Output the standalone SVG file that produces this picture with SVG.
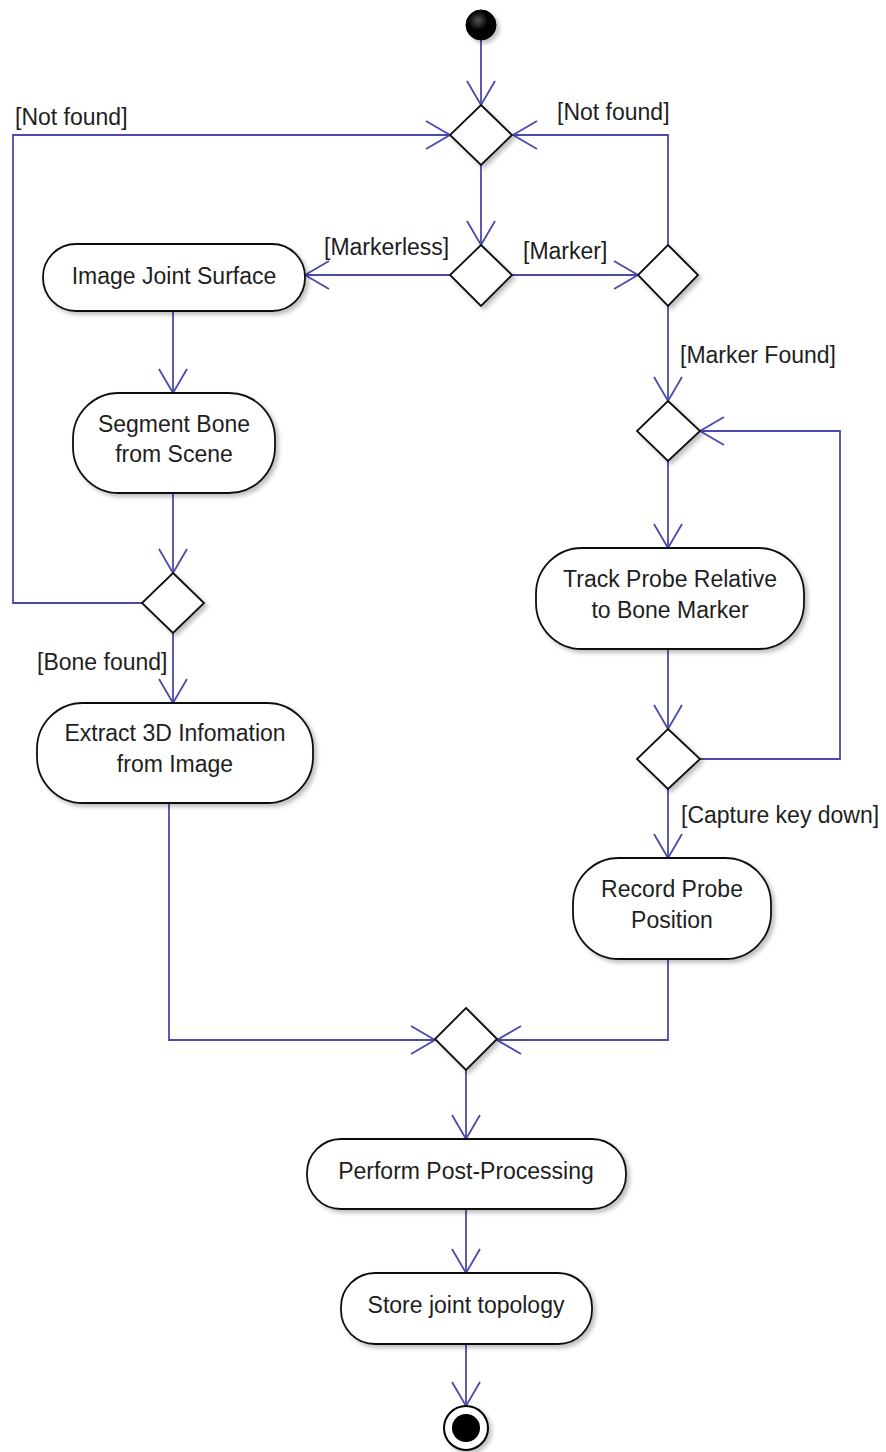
<svg xmlns="http://www.w3.org/2000/svg" width="886" height="1452" viewBox="0 0 886 1452">
  <style>
    .act { fill: #ffffff; stroke: #111111; stroke-width: 1.8; filter: url(#shadow); }
    .dec { fill: #ffffff; stroke: #111111; stroke-width: 1.8; filter: url(#shadow); }
    .flow { fill: none; stroke: #4a4aab; stroke-width: 1.8; }
    .flow.arr { marker-end: url(#arrow); }
    text { font-family: "Liberation Sans", Arial, sans-serif; font-size: 23px; fill: #1e1e1e; }
    .c { text-anchor: middle; }
  </style>
  <defs>
    <filter id="shadow" x="-20%" y="-20%" width="140%" height="140%">
      <feDropShadow dx="3" dy="3" stdDeviation="2" flood-color="#000000" flood-opacity="0.25"/>
    </filter>
    <radialGradient id="ballFill" cx="40%" cy="35%" r="65%">
      <stop offset="0" stop-color="#555555"/>
      <stop offset="0.5" stop-color="#000000"/>
      <stop offset="1" stop-color="#000000"/>
    </radialGradient>
    <marker id="arrow" markerUnits="userSpaceOnUse" markerWidth="30" markerHeight="32" refX="24" refY="14" orient="auto" overflow="visible">
      <path d="M0,0 L24,14 L0,28" fill="none" stroke="#4a4aab" stroke-width="1.8"/>
    </marker>
  </defs>

  <!-- control flows -->
  <g id="connectors">
    <path class="flow arr" d="M481,40 V105"/>
    <path class="flow arr" d="M481,165 V245"/>
    <path class="flow arr" d="M450,275 H305"/>
    <path class="flow arr" d="M512,275 H638"/>
    <path class="flow arr" d="M668,245 V135 H513"/>
    <path class="flow arr" d="M142,603 H13 V135 H450"/>
    <path class="flow arr" d="M173,311 V393"/>
    <path class="flow arr" d="M173,493 V573"/>
    <path class="flow arr" d="M173,633 V703"/>
    <path class="flow arr" d="M169,803 V1040 H435"/>
    <path class="flow arr" d="M668,306 V401"/>
    <path class="flow arr" d="M668,461 V548"/>
    <path class="flow arr" d="M668,649 V729"/>
    <path class="flow arr" d="M700,759 H840 V431 H700"/>
    <path class="flow arr" d="M668,789 V858"/>
    <path class="flow arr" d="M668,959 V1040 H497"/>
    <path class="flow arr" d="M466,1070 V1139"/>
    <path class="flow arr" d="M466,1209 V1273"/>
    <path class="flow arr" d="M466,1344 V1406"/>
  </g>

  <!-- guard labels -->
  <g id="guards">
    <text x="15" y="125">[Not found]</text>
    <text x="557" y="120">[Not found]</text>
    <text x="324" y="255">[Markerless]</text>
    <text x="523" y="259">[Marker]</text>
    <text x="680" y="363">[Marker Found]</text>
    <text x="37" y="670">[Bone found]</text>
    <text x="681" y="823">[Capture key down]</text>
  </g>

  <!-- initial node -->
  <g id="start">
    <circle cx="481" cy="25" r="15" fill="url(#ballFill)" stroke="#000000" stroke-width="1" filter="url(#shadow)"/>
  </g>

  <!-- decision / merge nodes -->
  <g id="merge-top"><polygon class="dec" points="481,105 512,135 481,165 450,135"/></g>
  <g id="decision-method"><polygon class="dec" points="481,245 512,275 481,306 450,275"/></g>
  <g id="decision-marker"><polygon class="dec" points="668,245 698,275 668,306 638,275"/></g>
  <g id="decision-bone"><polygon class="dec" points="173,573 204,603 173,633 142,603"/></g>
  <g id="merge-track"><polygon class="dec" points="668,401 700,431 668,461 637,431"/></g>
  <g id="decision-capture"><polygon class="dec" points="668,729 700,759 668,789 637,759"/></g>
  <g id="merge-bottom"><polygon class="dec" points="466,1008 497,1039 466,1070 435,1039"/></g>

  <!-- actions -->
  <g id="image-joint-surface">
    <rect class="act" x="43" y="244" width="262" height="67" rx="33" ry="33"/>
    <text class="c" x="174" y="284">Image Joint Surface</text>
  </g>
  <g id="segment-bone">
    <rect class="act" x="73" y="393" width="202" height="100" rx="46" ry="46"/>
    <text class="c" x="174" y="432">Segment Bone</text>
    <text class="c" x="174" y="462">from Scene</text>
  </g>
  <g id="extract-3d">
    <rect class="act" x="37" y="703" width="276" height="100" rx="46" ry="46"/>
    <text class="c" x="175" y="741">Extract 3D Infomation</text>
    <text class="c" x="175" y="772">from Image</text>
  </g>
  <g id="track-probe">
    <rect class="act" x="536" y="548" width="268" height="101" rx="46" ry="46"/>
    <text class="c" x="670" y="587">Track Probe Relative</text>
    <text class="c" x="670" y="618">to Bone Marker</text>
  </g>
  <g id="record-probe">
    <rect class="act" x="573" y="858" width="198" height="101" rx="46" ry="46"/>
    <text class="c" x="672" y="897">Record Probe</text>
    <text class="c" x="672" y="928">Position</text>
  </g>
  <g id="post-processing">
    <rect class="act" x="307" y="1139" width="319" height="70" rx="34" ry="34"/>
    <text class="c" x="466" y="1179">Perform Post-Processing</text>
  </g>
  <g id="store-topology">
    <rect class="act" x="341" y="1273" width="251" height="71" rx="34" ry="34"/>
    <text class="c" x="466" y="1313">Store joint topology</text>
  </g>

  <!-- final node -->
  <g id="end">
    <circle cx="466" cy="1428" r="22" fill="#ffffff" stroke="#000000" stroke-width="2" filter="url(#shadow)"/>
    <circle cx="466" cy="1428" r="14" fill="#000000"/>
  </g>
</svg>
